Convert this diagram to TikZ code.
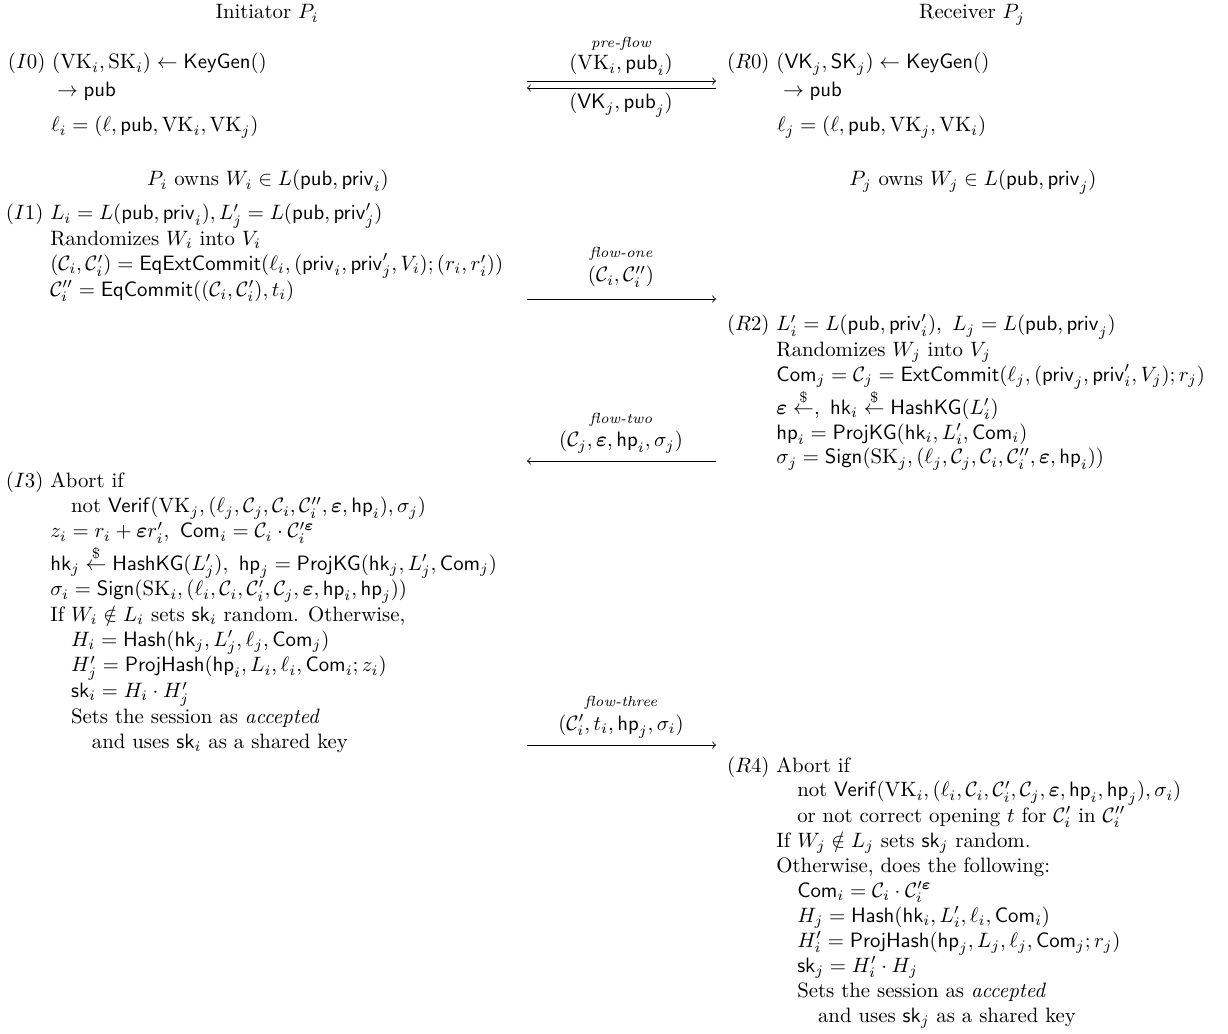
\documentclass[tikz,border=0pt]{standalone}
\usepackage{amsmath,amssymb}
\newcommand{\eps}{\boldsymbol{\varepsilon}}
\newcommand{\rnd}{\stackrel{\$}{\leftarrow}}
\begin{document}
\begin{tikzpicture}[x=0.4808pt,y=-0.4808pt,
  txt/.style={inner sep=0pt,outer sep=0pt,anchor=base west},
  ctr/.style={inner sep=0pt,outer sep=0pt,anchor=base},
  flowlbl/.style={inner sep=0pt,outer sep=0pt,anchor=base,font=\scriptsize\itshape},
  msg/.style={inner sep=0pt,outer sep=0pt,anchor=base},
  arr/.style={->,>=to,line width=0.4pt}]
\useasboundingbox[fill=white] (0,0) rectangle (1228,1034);

% headings
\node[ctr] (hI) at (267,19) {Initiator $P_i$};
\node[ctr] (hR) at (972,19) {Receiver $P_j$};

% I0
\node[txt] (I0) at (8,69) {$(I0)$\ $(\mathrm{VK}_i,\mathrm{SK}_i)\leftarrow\mathsf{KeyGen}()$};
\node[txt] (I0b) at (57,97) {$\to\mathsf{pub}$};
\node[txt] (I0c) at (51,132) {$\ell_i=(\ell,\mathsf{pub},\mathrm{VK}_i,\mathrm{VK}_j)$};
\node[ctr] (I0d) at (268,186) {$P_i$ owns $W_i\in L(\mathsf{pub},\mathsf{priv}_i)$};

% R0
\node[txt] (R0) at (727,69) {$(R0)$\ $(\mathsf{VK}_j,\mathsf{SK}_j)\leftarrow\mathsf{KeyGen}()$};
\node[txt] (R0b) at (783,97) {$\to\mathsf{pub}$};
\node[txt] (R0c) at (777,132) {$\ell_j=(\ell,\mathsf{pub},\mathrm{VK}_j,\mathrm{VK}_i)$};
\node[ctr] (R0d) at (973,186) {$P_j$ owns $W_j\in L(\mathsf{pub},\mathsf{priv}_j)$};

% I1
\node[txt] (I1) at (6,220) {\begin{tabular}[t]{@{}l@{\ }l@{}}
$(I1)$ & $L_i=L(\mathsf{pub},\mathsf{priv}_i), L'_j=L(\mathsf{pub},\mathsf{priv}'_j)$\\
& Randomizes $W_i$ into $V_i$\\
& $(\mathcal{C}_i,\mathcal{C}'_i)=\mathsf{EqExtCommit}(\ell_i,(\mathsf{priv}_i,\mathsf{priv}'_j,V_i);(r_i,r'_i))$\\
& $\mathcal{C}''_i=\mathsf{EqCommit}((\mathcal{C}_i,\mathcal{C}'_i),t_i)$
\end{tabular}};

% R2
\node[txt] (R2) at (727,331) {\begin{tabular}[t]{@{}l@{\ }l@{}}
$(R2)$ & $L'_i=L(\mathsf{pub},\mathsf{priv}'_i),\ L_j=L(\mathsf{pub},\mathsf{priv}_j)$\\
& Randomizes $W_j$ into $V_j$\\
& $\mathsf{Com}_j=\mathcal{C}_j=\mathsf{ExtCommit}(\ell_j,(\mathsf{priv}_j,\mathsf{priv}'_i,V_j);r_j)$\\
& $\eps\rnd,\ \mathsf{hk}_i\rnd\mathsf{HashKG}(L'_i)$\\
& $\mathsf{hp}_i=\mathsf{ProjKG}(\mathsf{hk}_i,L'_i,\mathsf{Com}_i)$\\
& $\sigma_j=\mathsf{Sign}(\mathrm{SK}_j,(\ell_j,\mathcal{C}_j,\mathcal{C}_i,\mathcal{C}''_i,\eps,\mathsf{hp}_i))$
\end{tabular}};

% I3
\node[txt] (I3) at (6,488) {\begin{tabular}[t]{@{}l@{\ }l@{}}
$(I3)$ & Abort if\\
& \quad not $\mathsf{Verif}(\mathrm{VK}_j,(\ell_j,\mathcal{C}_j,\mathcal{C}_i,\mathcal{C}''_i,\eps,\mathsf{hp}_i),\sigma_j)$\\
& $z_i=r_i+\eps r'_i,\ \mathsf{Com}_i=\mathcal{C}_i\cdot\mathcal{C}'^{\eps}_i$\\
& $\mathsf{hk}_j\rnd\mathsf{HashKG}(L'_j),\ \mathsf{hp}_j=\mathsf{ProjKG}(\mathsf{hk}_j,L'_j,\mathsf{Com}_j)$\\
& $\sigma_i=\mathsf{Sign}(\mathrm{SK}_i,(\ell_i,\mathcal{C}_i,\mathcal{C}'_i,\mathcal{C}_j,\eps,\mathsf{hp}_i,\mathsf{hp}_j))$\\
& If $W_i\notin L_i$ sets $\mathsf{sk}_i$ random. Otherwise,\\
& \quad $H_i=\mathsf{Hash}(\mathsf{hk}_j,L'_j,\ell_j,\mathsf{Com}_j)$\\
& \quad $H'_j=\mathsf{ProjHash}(\mathsf{hp}_i,L_i,\ell_i,\mathsf{Com}_i;z_i)$\\
& \quad $\mathsf{sk}_i=H_i\cdot H'_j$\\
& \quad Sets the session as \emph{accepted}\\
& \qquad and uses $\mathsf{sk}_i$ as a shared key
\end{tabular}};

% R4
\node[txt] (R4) at (727,772) {\begin{tabular}[t]{@{}l@{\ }l@{}}
$(R4)$ & Abort if\\
& \quad not $\mathsf{Verif}(\mathrm{VK}_i,(\ell_i,\mathcal{C}_i,\mathcal{C}'_i,\mathcal{C}_j,\eps,\mathsf{hp}_i,\mathsf{hp}_j),\sigma_i)$\\
& \quad or not correct opening $t$ for $\mathcal{C}'_i$ in $\mathcal{C}''_i$\\
& If $W_j\notin L_j$ sets $\mathsf{sk}_j$ random.\\
& Otherwise, does the following:\\
& \quad $\mathsf{Com}_i=\mathcal{C}_i\cdot\mathcal{C}'^{\eps}_i$\\
& \quad $H_j=\mathsf{Hash}(\mathsf{hk}_i,L'_i,\ell_i,\mathsf{Com}_i)$\\
& \quad $H'_i=\mathsf{ProjHash}(\mathsf{hp}_j,L_j,\ell_j,\mathsf{Com}_j;r_j)$\\
& \quad $\mathsf{sk}_j=H'_i\cdot H_j$\\
& \quad Sets the session as \emph{accepted}\\
& \qquad and uses $\mathsf{sk}_j$ as a shared key
\end{tabular}};

% pre-flow
\coordinate (p1a) at (527,81);
\coordinate (p1b) at (716,81);
\coordinate (p2a) at (716,88);
\coordinate (p2b) at (527,88);
\draw[arr] (p1a) -- (p1b);
\draw[arr] (p2a) -- (p2b);
\node[flowlbl] (pl) at (621,48) {pre-flow};
\node[msg] (pm1) at (621,70) {$(\mathrm{VK}_i,\mathsf{pub}_i)$};
\node[msg] (pm2) at (621,109) {$(\mathsf{VK}_j,\mathsf{pub}_j)$};

% flow-one
\coordinate (f1a) at (527,299);
\coordinate (f1b) at (716,299);
\draw[arr] (f1a) -- (f1b);
\node[flowlbl] (f1l) at (621,258) {flow-one};
\node[msg] (f1m) at (621,282) {$(\mathcal{C}_i,\mathcal{C}''_i)$};

% flow-two
\coordinate (f2a) at (716,461);
\coordinate (f2b) at (527,461);
\draw[arr] (f2a) -- (f2b);
\node[flowlbl] (f2l) at (621,424) {flow-two};
\node[msg] (f2m) at (621,447) {$(\mathcal{C}_j,\eps,\mathsf{hp}_i,\sigma_j)$};

% flow-three
\coordinate (f3a) at (527,745);
\coordinate (f3b) at (716,745);
\draw[arr] (f3a) -- (f3b);
\node[flowlbl] (f3l) at (621,706) {flow-three};
\node[msg] (f3m) at (621,730) {$(\mathcal{C}'_i,t_i,\mathsf{hp}_j,\sigma_i)$};
\end{tikzpicture}
\end{document}
